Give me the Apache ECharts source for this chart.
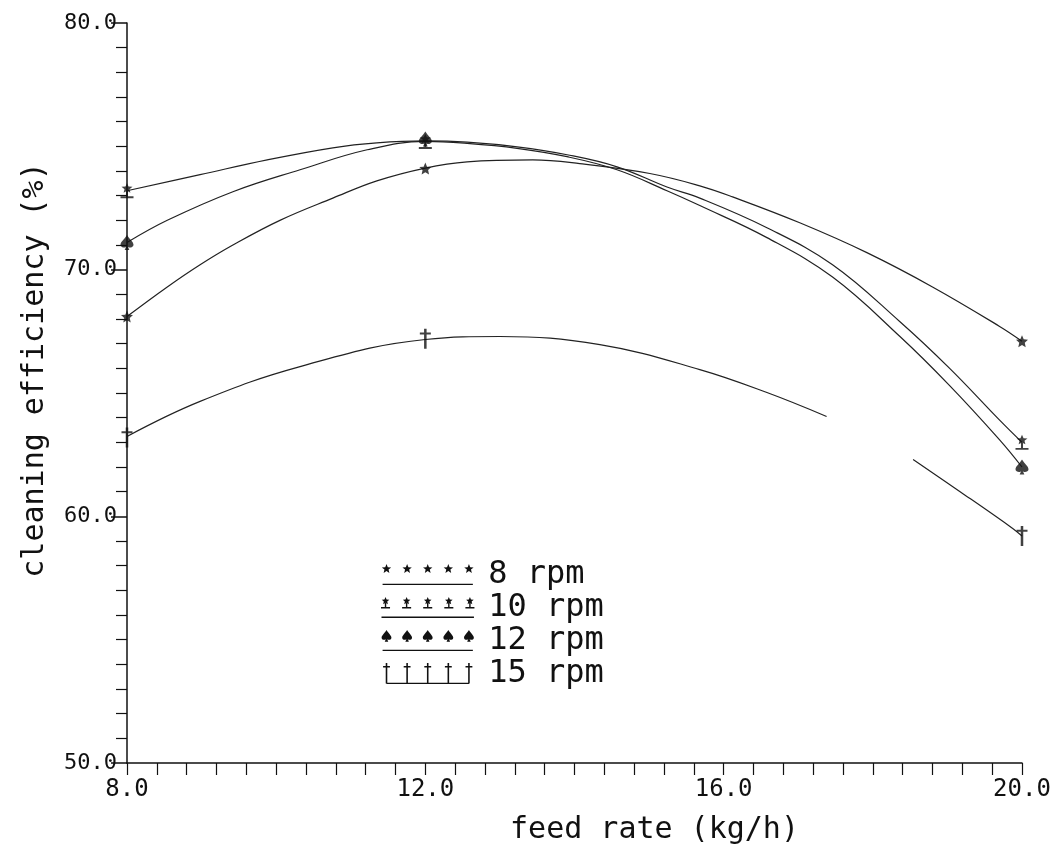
<!DOCTYPE html>
<html>
<head>
<meta charset="utf-8">
<script src="https://cdn.jsdelivr.net/npm/echarts@6/dist/echarts.min.js"></script>
<style>
html,body{margin:0;padding:0;background:#fff;}
#c{width:1061px;height:854px;}
</style>
</head>
<body>
<div id="c"></div>
<script>
// ---- data ----
const seriesNames = ['8 rpm', '10 rpm', '12 rpm', '15 rpm'];
const feedRates = [8, 12, 20];
const eff8 = [68.1, 74.1, 67.1];
const eff10 = [73.2, 75.2, 63.0];
const eff12 = [71.1, 75.3, 62.0];
const eff15 = [63.2, 67.2, 59.2];

// fitted curves
const curve8 = [[8,68.1],[8.54,69.3],[8.98,70.2],[9.42,71.0],[10.05,72.0],[10.76,72.9],[11.35,73.6],[12,74.12],[12.56,74.37],[13.44,74.45],[14.07,74.3],[15.01,73.9],[15.68,73.4],[16.12,72.95],[17.02,71.9],[17.92,70.69],[18.8,69.3],[19.7,67.7],[20,67.1]];
const curve10 = [[8,73.2],[8.98,73.85],[9.88,74.45],[10.76,74.94],[11.35,75.14],[12,75.22],[12.56,75.17],[13.23,74.98],[13.9,74.66],[14.57,74.17],[15.24,73.35],[15.68,72.9],[16.58,71.7],[17.46,70.2],[18.36,67.9],[19.03,66.0],[19.7,63.9],[20,63.0]];
const curve12 = [[8,71.1],[8.54,72.0],[9.42,73.16],[10.32,74.05],[11.22,74.86],[12,75.2],[12.56,75.12],[13.23,74.92],[13.9,74.58],[14.57,74.05],[15.24,73.2],[15.68,72.6],[16.58,71.3],[17.46,69.7],[18.36,67.3],[19.03,65.3],[19.7,63.1],[20,62.0]];
const curve15 = [[8,63.24],[8.98,64.66],[10.32,66.07],[12,67.17],[13.0,67.29],[14.34,66.96],[15.68,65.95],[16.58,65.02],[17.38,64.05],[17.9,'-'],[18.54,62.3],[19.17,61.0],[19.88,59.5],[20,59.2]];

const xTicks = [8, 12, 16, 20];
const yTicks = [50, 60, 70, 80];

// ---- marker shapes ----
function star(cx, cy, R, r) {
  let s = '';
  for (let i = 0; i < 10; i++) {
    const a = -Math.PI / 2 + i * Math.PI / 5;
    const rad = i % 2 ? r : R;
    s += (i ? 'L' : 'M') + (cx + rad * Math.cos(a)).toFixed(2) + ',' + (cy + rad * Math.sin(a)).toFixed(2);
  }
  return s + 'Z';
}
function rect(x, y, w, h) {
  return 'M' + x + ',' + y + 'H' + (x + w) + 'V' + (y + h) + 'H' + x + 'Z';
}
function spade(cx, top, w, h) {
  const f = v => v.toFixed(2);
  return 'M' + f(cx) + ',' + f(top) +
    'C' + f(cx + w * 0.2) + ',' + f(top + h * 0.3) + ' ' + f(cx + w / 2) + ',' + f(top + h * 0.45) + ' ' + f(cx + w / 2) + ',' + f(top + h * 0.65) +
    'C' + f(cx + w / 2) + ',' + f(top + h * 0.85) + ' ' + f(cx + w * 0.1) + ',' + f(top + h * 0.9) + ' ' + f(cx + w * 0.05) + ',' + f(top + h * 0.75) +
    'L' + f(cx + w * 0.18) + ',' + f(top + h) + 'L' + f(cx - w * 0.18) + ',' + f(top + h) + 'L' + f(cx - w * 0.05) + ',' + f(top + h * 0.75) +
    'C' + f(cx - w * 0.1) + ',' + f(top + h * 0.9) + ' ' + f(cx - w / 2) + ',' + f(top + h * 0.85) + ' ' + f(cx - w / 2) + ',' + f(top + h * 0.65) +
    'C' + f(cx - w / 2) + ',' + f(top + h * 0.45) + ' ' + f(cx - w * 0.2) + ',' + f(top + h * 0.3) + ' ' + f(cx) + ',' + f(top) + 'Z';
}
function dagger(cx, top, h) {
  return rect(cx - 0.8, top, 1.6, h) + rect(cx - 3.5, top + 3, 7, 1.6);
}
function club(cx, cy) {
  return star(cx, cy, 4, 1.8) + rect(cx - 0.7, cy + 2, 1.4, 4.5) + rect(cx - 4.5, cy + 6, 9, 1.5);
}

const sym8 = 'path://' + star(5, 5, 5, 2.3);
const sym10 = 'path://' + club(5, 4);
const sym12 = 'path://' + spade(5, 0, 10, 12);
const sym15 = 'path://' + dagger(4, 0, 16);

const cxs = [6, 27, 48, 69, 90];
const base = rect(2, 20, 92, 1.4);
const leg8 = 'path://' + cxs.map(c => star(c, 5, 5, 2.2)).join('') + base;
const leg10 = 'path://' + cxs.map(c => club(c, 4.5)).join('') + base;
const leg12 = 'path://' + cxs.map(c => spade(c, 0, 10, 12)).join('') + base;
const leg15 = 'path://' + cxs.map(c => dagger(c, 0, 21)).join('') + rect(cxs[0], 20, cxs[4] - cxs[0], 1.4);

const FONT = 'DejaVu Sans Mono';
const INK = '#111';

function pairs(ys) { return feedRates.map((x, i) => [x, ys[i]]); }

const curves = [curve8, curve10, curve12, curve15];
const points = [eff8, eff10, eff12, eff15];
const syms = [sym8, sym10, sym12, sym15];
const symSizes = [[12, 12], [13, 15], [13, 15], [11, 20]];
const legIcons = [leg8, leg10, leg12, leg15];

const series = [];
seriesNames.forEach((n, i) => {
  series.push({
    name: n, type: 'line', data: curves[i], smooth: 0.4, showSymbol: false, connectNulls: false,
    lineStyle: { color: '#222', width: 1.2 }, itemStyle: { color: INK }, silent: true, z: 2
  });
  series.push({
    name: n, type: 'scatter', data: pairs(points[i]), symbol: syms[i], symbolSize: symSizes[i],
    itemStyle: { color: INK }, z: 3
  });
});

const chart = echarts.init(document.getElementById('c'), null, { renderer: 'canvas' });
chart.setOption({
  backgroundColor: '#fff',
  animation: false,
  grid: { left: 127, right: 39, top: 23, bottom: 91, containLabel: false },
  legend: {
    orient: 'vertical', left: 376, top: 553,
    itemWidth: 95, itemHeight: 21, itemGap: 0,
    data: seriesNames.map((n, i) => ({ name: n, icon: legIcons[i] })),
    textStyle: { fontFamily: FONT, fontSize: 32, lineHeight: 33, color: INK, padding: [0, 0, 0, 8] },
    selectedMode: false
  },
  xAxis: {
    type: 'value', min: xTicks[0], max: xTicks[xTicks.length - 1], interval: 4,
    name: 'feed rate (kg/h)', nameLocation: 'middle', nameGap: 52,
    nameTextStyle: { fontFamily: FONT, fontSize: 30, color: INK, padding: [0, 0, 0, 160] },
    axisLine: { lineStyle: { color: INK, width: 1.5 } },
    axisTick: { show: true, inside: false, length: 12, lineStyle: { color: INK, width: 1.2 } },
    minorTick: { show: true, splitNumber: 10, length: 12, lineStyle: { color: INK, width: 1.2 } },
    splitLine: { show: false },
    axisLabel: { fontFamily: FONT, fontSize: 24, color: INK, margin: 15, formatter: v => v.toFixed(1) }
  },
  yAxis: {
    type: 'value', min: yTicks[0], max: yTicks[yTicks.length - 1], interval: 10,
    name: 'cleaning efficiency (%)', nameLocation: 'middle', nameGap: 77,
    nameTextStyle: { fontFamily: FONT, fontSize: 30, color: INK, padding: [0, 0, 0, 46] },
    axisLine: { show: true, lineStyle: { color: INK, width: 1.5 } },
    axisTick: { show: true, inside: false, length: 16, lineStyle: { color: INK, width: 1.5 } },
    minorTick: { show: true, splitNumber: 10, length: 11, lineStyle: { color: INK, width: 1.2 } },
    splitLine: { show: false },
    axisLabel: { fontFamily: FONT, fontSize: 22, color: INK, margin: 10, formatter: v => v.toFixed(1) }
  },
  series: series
});
</script>
</body>
</html>
